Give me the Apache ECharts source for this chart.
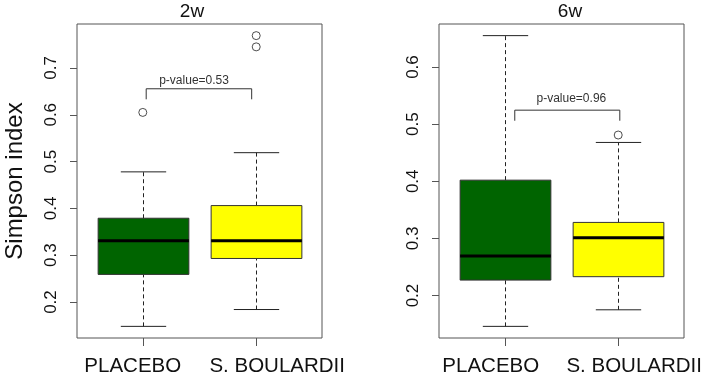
<!DOCTYPE html>
<html><head><meta charset="utf-8">
<script src="https://cdn.jsdelivr.net/npm/echarts@6/dist/echarts.min.js"></script>
<style>html,body{margin:0;padding:0;background:#fff}#c{width:706px;height:377px}</style>
</head><body><div id="c"></div>
<script>
// ---- data ----
const categories = ['PLACEBO', 'S. BOULARDII'];
const panelTitles = ['2w', '6w'];
const yTicks2w = [0.2, 0.3, 0.4, 0.5, 0.6, 0.7];
const yTicks6w = [0.2, 0.3, 0.4, 0.5, 0.6];
// [lower whisker, Q1, median, Q3, upper whisker]
const box2wPlacebo   = [0.148, 0.259, 0.331, 0.379, 0.478];
const box2wBoulardii = [0.184, 0.293, 0.331, 0.406, 0.519];
const box6wPlacebo   = [0.146, 0.227, 0.269, 0.402, 0.655];
const box6wBoulardii = [0.175, 0.233, 0.301, 0.328, 0.468];
const outliers2wPlacebo   = [0.605];
const outliers2wBoulardii = [0.745, 0.769];
const outliers6wPlacebo   = [];
const outliers6wBoulardii = [0.481];
const pValueLabels = ['p-value=0.53', 'p-value=0.96'];
// bracket: [x start, x end, y top, y leg end, label x, label y]
const bracket2w = [1.03, 1.96, 0.6555, 0.633, 1.452, 0.6725];
const bracket6w = [1.088, 2.014, 0.5245, 0.506, 1.587, 0.545];

// ---- styles ----
const boxColors = ['#006400', '#FFFF00'];
const ink = '#222';
const frame = '#555';
const FONT = 'Liberation Sans, Arial, sans-serif';
// horizontal nudges of category labels (px): [placebo, boulardii] per panel
const labelNudge = [[-10, 21], [-14, 16]];

function rangeOf(boxes, outs) {
  const all = [].concat(...boxes, ...outs);
  const lo = Math.min(...all), hi = Math.max(...all);
  const ext = (hi - lo) * 0.04;
  return [lo - ext, hi + ext];
}
const r2w = rangeOf([box2wPlacebo, box2wBoulardii], [outliers2wPlacebo, outliers2wBoulardii]);
const r6w = rangeOf([box6wPlacebo, box6wBoulardii], [outliers6wPlacebo, outliers6wBoulardii]);

function boxRender(params, api) {
  const xv = api.value(0);
  const p = [1, 2, 3, 4, 5].map(i => api.coord([xv, api.value(i)]));
  const cx = Math.round(p[0][0]) + 0.5;
  const hw = api.size([0.4, 0])[0];
  const sw = api.size([0.2, 0])[0];
  const dash = { stroke: ink, lineWidth: 1, lineDash: [4, 3] };
  const solid = { stroke: ink, lineWidth: 1 };
  return {
    type: 'group', children: [
      { type: 'line', shape: { x1: cx, y1: p[3][1], x2: cx, y2: p[4][1] }, style: dash },
      { type: 'line', shape: { x1: cx, y1: p[0][1], x2: cx, y2: p[1][1] }, style: dash },
      { type: 'line', shape: { x1: cx - sw, y1: p[4][1], x2: cx + sw, y2: p[4][1] }, style: solid },
      { type: 'line', shape: { x1: cx - sw, y1: p[0][1], x2: cx + sw, y2: p[0][1] }, style: solid },
      { type: 'rect', shape: { x: cx - hw, y: p[3][1], width: 2 * hw, height: p[1][1] - p[3][1] },
        style: { fill: boxColors[params.dataIndex], stroke: '#333', lineWidth: 1 } },
      { type: 'line', shape: { x1: cx - hw, y1: p[2][1], x2: cx + hw, y2: p[2][1] },
        style: { stroke: '#000', lineWidth: 3 } }
    ]
  };
}

function bracketRender(labelIdx) {
  return function (params, api) {
    const a = api.coord([api.value(0), api.value(3)]);
    const b = api.coord([api.value(0), api.value(2)]);
    const c = api.coord([api.value(1), api.value(2)]);
    const d = api.coord([api.value(1), api.value(3)]);
    const t = api.coord([api.value(4), api.value(5)]);
    return {
      type: 'group', children: [
        { type: 'polyline', shape: { points: [a, b, c, d] }, style: { stroke: '#333', lineWidth: 1, fill: null } },
        { type: 'text', x: t[0], y: t[1], style: { text: pValueLabels[labelIdx], align: 'center', verticalAlign: 'middle',
          font: '12px ' + FONT, fill: '#333' } }
      ]
    };
  };
}

function outlierData(a, b) {
  return a.map(v => [1, v]).concat(b.map(v => [2, v]));
}

const grids = [
  { left: 77, top: 24, width: 245, height: 317, show: true, borderColor: frame, borderWidth: 1, backgroundColor: 'transparent' },
  { left: 439, top: 24, width: 245, height: 317, show: true, borderColor: frame, borderWidth: 1, backgroundColor: 'transparent' }
];

function xAxis(gi) {
  const rich = {};
  labelNudge[gi].forEach((s, i) => {
    rich['c' + i] = { fontSize: 20.5, fontFamily: FONT, color: '#111',
      padding: s > 0 ? [0, 0, 0, 2 * s] : [0, -2 * s, 0, 0] };
  });
  return {
    type: 'value', gridIndex: gi, min: 0.42, max: 2.58,
    axisLine: { show: false }, splitLine: { show: false },
    axisTick: { show: true, length: 8, lineStyle: { color: frame }, customValues: [1, 2] },
    axisLabel: { customValues: [1, 2], hideOverlap: false,
      formatter: v => { const i = Math.round(v) - 1; return '{c' + i + '|' + categories[i] + '}'; },
      margin: 18, rich: rich, fontSize: 20.5, fontFamily: FONT, color: '#111' }
  };
}
function yAxis(gi, r, ticks, withName) {
  const o = {
    type: 'value', gridIndex: gi, min: r[0], max: r[1],
    axisLine: { show: false }, splitLine: { show: false },
    axisTick: { show: true, length: 7, lineStyle: { color: frame }, customValues: ticks },
    axisLabel: { customValues: ticks, rotate: 90, margin: 17, formatter: v => v.toFixed(1),
      fontSize: 17, fontFamily: FONT, color: '#111' }
  };
  if (withName) {
    Object.assign(o, { name: 'Simpson index', nameLocation: 'middle', nameRotate: 90, nameGap: 50,
      nameTextStyle: { fontSize: 24, fontFamily: FONT, color: '#111' } });
  }
  return o;
}

const option = {
  animation: false,
  backgroundColor: '#fff',
  grid: grids,
  xAxis: [xAxis(0), xAxis(1)],
  yAxis: [yAxis(0, r2w, yTicks2w, true), yAxis(1, r6w, yTicks6w, false)],
  graphic: [
    { type: 'text', x: 192, y: 12, style: { text: panelTitles[0], align: 'center', verticalAlign: 'middle', font: '19px ' + FONT, fill: '#111' } },
    { type: 'text', x: 570, y: 12, style: { text: panelTitles[1], align: 'center', verticalAlign: 'middle', font: '19px ' + FONT, fill: '#111' } }
  ],
  series: [
    { type: 'custom', xAxisIndex: 0, yAxisIndex: 0, renderItem: boxRender, clip: false,
      encode: { x: 0, y: [1, 2, 3, 4, 5] },
      data: [[1, ...box2wPlacebo], [2, ...box2wBoulardii]] },
    { type: 'custom', xAxisIndex: 1, yAxisIndex: 1, renderItem: boxRender, clip: false,
      encode: { x: 0, y: [1, 2, 3, 4, 5] },
      data: [[1, ...box6wPlacebo], [2, ...box6wBoulardii]] },
    { type: 'scatter', xAxisIndex: 0, yAxisIndex: 0, symbol: 'circle', symbolSize: 8,
      itemStyle: { color: '#fff', borderColor: '#222', borderWidth: 1 },
      data: outlierData(outliers2wPlacebo, outliers2wBoulardii) },
    { type: 'scatter', xAxisIndex: 1, yAxisIndex: 1, symbol: 'circle', symbolSize: 8,
      itemStyle: { color: '#fff', borderColor: '#222', borderWidth: 1 },
      data: outlierData(outliers6wPlacebo, outliers6wBoulardii) },
    { type: 'custom', xAxisIndex: 0, yAxisIndex: 0, renderItem: bracketRender(0), clip: false,
      encode: { x: [0, 1], y: [2, 3] }, data: [bracket2w] },
    { type: 'custom', xAxisIndex: 1, yAxisIndex: 1, renderItem: bracketRender(1), clip: false,
      encode: { x: [0, 1], y: [2, 3] }, data: [bracket6w] }
  ]
};
const chart = echarts.init(document.getElementById('c'), null, { renderer: 'canvas' });
chart.setOption(option);
</script>
</body></html>
